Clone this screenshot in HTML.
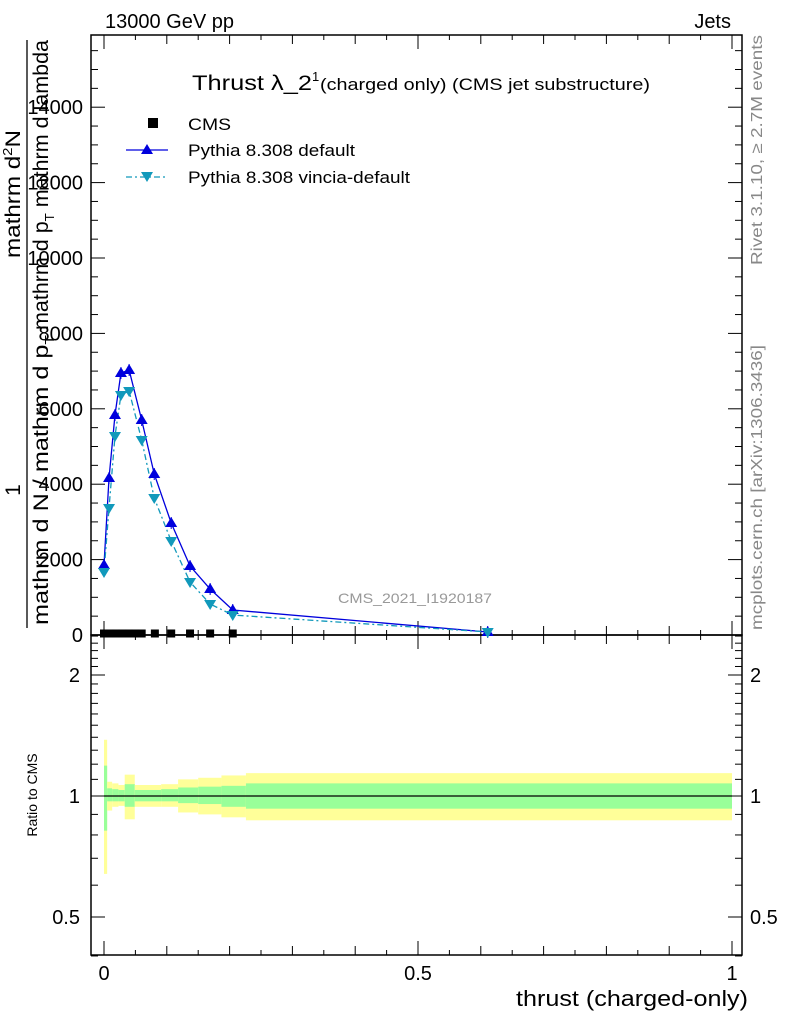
<!DOCTYPE html>
<html><head><meta charset="utf-8"><style>
body{margin:0;background:#fff}
svg{display:block;font-family:"Liberation Sans",sans-serif}
</style></head><body>
<svg id="c" width="786" height="1024" viewBox="0 0 786 1024">
<g id="bands"></g>
<g id="frames">
<rect x="91" y="35" width="651" height="600" fill="none" stroke="#000" stroke-width="1.5"/>
<rect x="91" y="635" width="651" height="320" fill="none" stroke="#000" stroke-width="1.5"/>
</g>
<g id="ticks"></g>
<g id="series"></g>
<text x="105" y="28" font-size="20">13000 GeV pp</text>
<text x="731" y="28" font-size="20" text-anchor="end">Jets</text>
<text x="192" y="90" font-size="21"><tspan textLength="120" lengthAdjust="spacingAndGlyphs">Thrust λ_2</tspan><tspan font-size="13" dy="-9">1</tspan><tspan font-size="17" dy="9" x="320" textLength="330" lengthAdjust="spacingAndGlyphs">(charged only) (CMS jet substructure)</tspan></text>
<g>
<rect x="148" y="118" width="10" height="10" fill="#000"/>
<text x="188" y="130" font-size="17" textLength="43" lengthAdjust="spacingAndGlyphs">CMS</text>
<line x1="126" y1="150" x2="168" y2="150" stroke="#0000dd" stroke-width="1.3"/>
<polygon points="147,144 153,154 141,154" fill="#0000dd"/>
<text x="188" y="156" font-size="17" textLength="167" lengthAdjust="spacingAndGlyphs">Pythia 8.308 default</text>
<line x1="126" y1="177" x2="168" y2="177" stroke="#1199bb" stroke-width="1.3" stroke-dasharray="6,3,2,3"/>
<polygon points="141,172 153,172 147,182" fill="#1199bb"/>
<text x="188" y="183" font-size="17" textLength="222" lengthAdjust="spacingAndGlyphs">Pythia 8.308 vincia-default</text>
</g>
<text x="338" y="603" font-size="14" fill="#999" textLength="154" lengthAdjust="spacingAndGlyphs">CMS_2021_I1920187</text>
<text transform="translate(762,265) rotate(-90)" font-size="16" fill="#888" textLength="230" lengthAdjust="spacingAndGlyphs">Rivet 3.1.10, ≥ 2.7M events</text>
<text transform="translate(762,630) rotate(-90)" font-size="16" fill="#888" textLength="285" lengthAdjust="spacingAndGlyphs">mcplots.cern.ch [arXiv:1306.3436]</text>
<g font-size="21">
<text transform="translate(20,258) rotate(-90)" textLength="128" lengthAdjust="spacingAndGlyphs">mathrm d<tspan font-size="13" dy="-8">2</tspan><tspan dy="8">N</tspan></text>
<text transform="translate(20,490) rotate(-90)" text-anchor="middle">1</text>
<line x1="27" y1="40" x2="27" y2="628" stroke="#000" stroke-width="1.3"/>
<text transform="translate(48,330) rotate(-90)" textLength="290" lengthAdjust="spacingAndGlyphs">mathrm d p<tspan font-size="13" dy="6">T</tspan><tspan dy="-6"> mathrm d lambda</tspan></text>
<text transform="translate(48,625) rotate(-90)" textLength="290" lengthAdjust="spacingAndGlyphs">mathrm d N / mathrm d p<tspan font-size="13" dy="6">T</tspan></text>
</g>
<text transform="translate(37,795) rotate(-90)" font-size="14" text-anchor="middle">Ratio to CMS</text>
<text x="748" y="1006" font-size="22" text-anchor="end" textLength="232" lengthAdjust="spacingAndGlyphs">thrust (charged-only)</text>
</svg>
<script>
const xPts=[0,0.008,0.0175,0.027,0.04,0.06,0.08,0.107,0.137,0.169,0.205,0.611];
const pyDefault=[1857,4164,5836,6950,7030,5703,4271,2971,1830,1220,663,80];
const pyVincia=[1671,3369,5279,6366,6472,5172,3634,2493,1406,822,530,80];
const cmsX=[0,0.01,0.019,0.029,0.04,0.049,0.06,0.081,0.107,0.137,0.169,0.205];
const cmsY=[40,40,40,40,40,40,40,40,40,40,40,40];
const binEdges=[0,0.005,0.013,0.023,0.033,0.049,0.091,0.118,0.150,0.187,0.226,1.0];
const yelUp=[1.38,1.085,1.075,1.065,1.13,1.065,1.07,1.10,1.11,1.125,1.14];
const grnUp=[1.19,1.045,1.04,1.035,1.07,1.035,1.04,1.05,1.055,1.06,1.075];
const grnDn=[0.82,0.97,0.97,0.97,0.94,0.97,0.97,0.96,0.955,0.94,0.93];
const yelDn=[0.64,0.92,0.94,0.945,0.875,0.94,0.94,0.91,0.90,0.885,0.87];
const yTicks=[0,2000,4000,6000,8000,10000,12000,14000];
const yTickLabels=["0","2000","4000","6000","8000","10000","12000","14000"];
const rTicks=[0.5,1,2];
const rTickLabels=["0.5","1","2"];
const xTicks=[0,0.5,1];
const xTickLabels=["0","0.5","1"];
const NS="http://www.w3.org/2000/svg";
const X=v=>104+v*628;
const Y=v=>635-v*0.03770;
const R=v=>796-Math.log2(v)*121;
function mk(p,t,a){const e=document.createElementNS(NS,t);for(const k in a)e.setAttribute(k,a[k]);p.appendChild(e);return e;}
const bands=document.getElementById('bands'),ticks=document.getElementById('ticks'),ser=document.getElementById('series');
for(let i=0;i<binEdges.length-1;i++){
 const x1=X(binEdges[i]),x2=X(binEdges[i+1]);
 const y=mk(bands,'rect',{x:x1,y:R(yelUp[i]),width:x2-x1,height:R(yelDn[i])-R(yelUp[i]),fill:'#ffff99'});
 
 
 const g=mk(bands,'rect',{x:x1,y:R(grnUp[i]),width:x2-x1,height:R(grnDn[i])-R(grnUp[i]),fill:'#99ff99'});
 
 
}
mk(bands,'line',{x1:X(0),x2:X(1),y1:R(1),y2:R(1),stroke:'#000','stroke-width':1.2});
for(let v=0;v<=15500;v+=500){const maj=v%2000===0;const L=maj?14:7;
 mk(ticks,'line',{x1:91,x2:91+L,y1:Y(v),y2:Y(v),stroke:'#000'});
 mk(ticks,'line',{x1:742,x2:742-L,y1:Y(v),y2:Y(v),stroke:'#000'});}
yTicks.forEach((v,i)=>{const t=mk(ticks,'text',{x:83,y:Y(v)+7,'font-size':20,'text-anchor':'end'});t.textContent=yTickLabels[i];
 
 });
const rMinor=[0.4,0.6,0.7,0.8,0.9,1.1,1.2,1.3,1.4,1.5,1.6,1.7,1.8,1.9,2.1,2.2,2.3,2.4,2.5];
rMinor.forEach(v=>{mk(ticks,'line',{x1:91,x2:98,y1:R(v),y2:R(v),stroke:'#000'});mk(ticks,'line',{x1:742,x2:735,y1:R(v),y2:R(v),stroke:'#000'});});
rTicks.forEach((v,i)=>{mk(ticks,'line',{x1:91,x2:105,y1:R(v),y2:R(v),stroke:'#000'});mk(ticks,'line',{x1:742,x2:728,y1:R(v),y2:R(v),stroke:'#000'});
 const t=mk(ticks,'text',{x:80,y:R(v)+7,'font-size':20,'text-anchor':'end'});t.textContent=rTickLabels[i];
 
 
 const t2=mk(ticks,'text',{x:750,y:R(v)+7,'font-size':20});t2.textContent=rTickLabels[i];
 
 });
for(let k=0;k<=20;k++){const v=k*0.05;const L=k%10===0?14:(k%2===0?9:5);
 [[635,-1],[35,1],[955,-1],[635,1]].forEach(([b,d])=>mk(ticks,'line',{x1:X(v),x2:X(v),y1:b,y2:b+d*L,stroke:'#000'}));}
xTicks.forEach((v,i)=>{const t=mk(ticks,'text',{x:X(v),y:980,'font-size':20,'text-anchor':'middle'});t.textContent=xTickLabels[i];
 
 });
cmsX.forEach((x,i)=>{const r=mk(ser,'rect',{x:X(x)-4,y:Y(cmsY[i])-4,width:8,height:8,fill:'#000'});
 
 });
function line(vals,col,dash,name){
 const p=mk(ser,'polyline',{points:xPts.map((x,i)=>X(x)+','+Y(vals[i])).join(' '),fill:'none',stroke:col,'stroke-width':1.3});
 if(dash)p.setAttribute('stroke-dasharray',dash);
 
 
}
line(pyDefault,'#0000dd',null,'pythia-default');
line(pyVincia,'#1199bb','6,3,2,3','pythia-vincia');
xPts.forEach((x,i)=>{const cx=X(x),cy=Y(pyDefault[i]);
 mk(ser,'line',{x1:cx,x2:cx,y1:cy-6,y2:cy+6,stroke:'#0000dd'});
 const t=mk(ser,'polygon',{points:`${cx},${cy-6} ${cx+6},${cy+4} ${cx-6},${cy+4}`,fill:'#0000dd'});
 
 
 const vy=Y(pyVincia[i]);
 const d=mk(ser,'polygon',{points:`${cx-6},${vy-4} ${cx+6},${vy-4} ${cx},${vy+6}`,fill:'#1199bb'});
 
 });
</script>
</body></html>
